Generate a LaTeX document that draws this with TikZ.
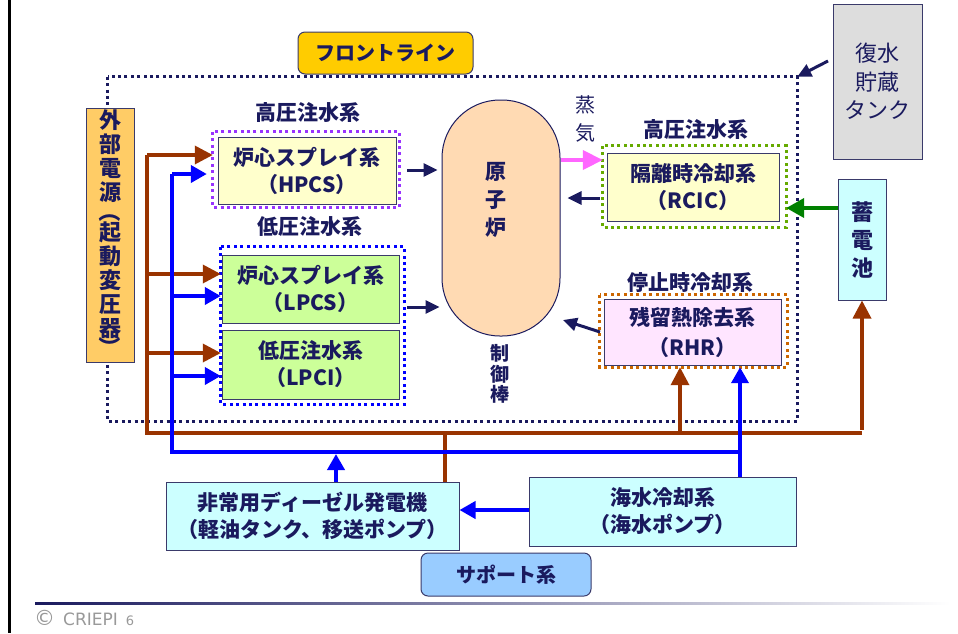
\documentclass[tikz,border=0pt]{standalone}
\usepackage{fontspec}
\setmainfont{Noto Sans CJK JP}
\newfontfamily\footfont{DejaVu Sans}
\usetikzlibrary{arrows.meta,calc}
\definecolor{navy}{HTML}{1A1A5E}
\definecolor{bordc}{HTML}{3A3A6A}
\definecolor{brn}{HTML}{993300}
\definecolor{blu}{HTML}{0000FF}
\definecolor{pnk}{HTML}{FF66FF}
\definecolor{grn}{HTML}{008000}
\definecolor{cfront}{HTML}{FFCC00}
\definecolor{csupport}{HTML}{99CCFF}
\definecolor{cext}{HTML}{FFCC66}
\definecolor{cpeach}{HTML}{FFDAB3}
\definecolor{clp}{HTML}{CCFF99}
\definecolor{cyel}{HTML}{FFFFCC}
\definecolor{crhr}{HTML}{FFE5FF}
\definecolor{ccyan}{HTML}{CCFFFF}
\definecolor{ctank}{HTML}{DDDDDD}
\definecolor{dpurple}{HTML}{9933FF}
\definecolor{dgreen}{HTML}{66AA00}
\definecolor{dorange}{HTML}{CC6600}
\definecolor{footgray}{HTML}{999999}
\tikzset{
  tbox/.style={draw=bordc, line width=1pt, inner sep=0pt, align=center, text=navy,
    font=\bfseries\fontsize{21}{27}\selectfont},
  plainbox/.style={inner sep=0pt},
  dotline/.style={line width=3pt, line cap=butt, dash pattern=on 3pt off 3.4pt},
  lbl/.style={text=navy, inner sep=0pt, align=center, font=\bfseries\fontsize{21}{26}\selectfont},
  brownln/.style={draw=brn, line width=3.5pt},
  brownarr/.style={brownln, -{Triangle[length=18pt,width=18pt]}},
  blueln/.style={draw=blu, line width=3.8pt},
  bluearr/.style={blueln, -{Triangle[length=16pt,width=17pt]}},
  navyarr/.style={draw=navy, line width=3pt, -{Triangle[length=14pt,width=13pt]}},
}
\begin{document}
\begin{tikzpicture}[x=1pt,y=-1pt]
\useasboundingbox (0,0) rectangle (958,633);
% left page border
\draw[black, line width=2.5pt] (9.5,0) -- (9.5,633);
% front line frame
\node[plainbox, minimum width=689pt, minimum height=344pt] (frame) at (452.5,249) {};
\draw[navy, dotline] (frame.north west) rectangle (frame.south east);
\node[tbox, fill=cfront, rounded corners=7pt, minimum width=175pt, minimum height=42pt,
  font=\bfseries\fontsize{20}{24}\selectfont] (front) at (385.5,53) {フロントライン};
% external power
\node[tbox, fill=cext, minimum width=48pt, minimum height=254pt] (ext) at (110,235) {};
\node[lbl, font=\bfseries\fontsize{22}{24}\selectfont] (exttext) at (110,234)
  {外\\部\\電\\源\\[-4pt]\rotatebox[origin=c]{-90}{（}\\[-4pt]起\\動\\変\\圧\\器\\[-4pt]\rotatebox[origin=c]{-90}{）}};
% HPCS
\node[lbl] (hpcslbl) at (308,113) {高圧注水系};
\node[plainbox, minimum width=186pt, minimum height=75pt] (hpcsO) at (306,169.5) {};
\draw[dpurple, dotline] (hpcsO.north west) rectangle (hpcsO.south east);
\node[tbox, fill=cyel, minimum width=178pt, minimum height=67pt] (hpcs) at (307,170.5) {炉心スプレイ系\\（HPCS）};
% LP group
\node[lbl] (lplbl) at (310,227) {低圧注水系};
\node[plainbox, minimum width=183pt, minimum height=157pt] (lpO) at (312.5,325.5) {};
\draw[blu, dotline] (lpO.north west) rectangle (lpO.south east);
\node[tbox, fill=clp, minimum width=177pt, minimum height=68pt] (lpcs) at (310.5,289) {炉心スプレイ系\\（LPCS）};
\node[tbox, fill=clp, minimum width=177pt, minimum height=69pt] (lpci) at (310.5,364.5) {低圧注水系\\（LPCI）};
% reactor
\node[draw=navy, fill=cpeach, line width=1pt, rounded corners=58pt, minimum width=118pt,
  minimum height=236pt, inner sep=0pt] (reactor) at (501,218) {};
\node[lbl, font=\bfseries\fontsize{21}{28}\selectfont] (rtext) at (496,200) {原\\子\\炉};
\node[lbl, font=\bfseries\fontsize{19}{20.5}\selectfont] (rod) at (500,374) {制\\御\\棒};
\node[lbl, font=\fontsize{20}{28}\selectfont] (steam) at (585,119) {蒸\\気};
% RCIC
\node[lbl] (rciclbl) at (696,130) {高圧注水系};
\node[plainbox, minimum width=183pt, minimum height=81pt] (rcicO) at (694.5,186.5) {};
\draw[dgreen, dotline] (rcicO.north west) rectangle (rcicO.south east);
\node[tbox, fill=cyel, minimum width=172pt, minimum height=68pt] (rcic) at (693,187) {隔離時冷却系\\（RCIC）};
% RHR
\node[lbl] (rhrlbl) at (690,283) {停止時冷却系};
\node[plainbox, minimum width=187pt, minimum height=72pt] (rhrO) at (693.5,331) {};
\draw[dorange, dotline] (rhrO.north west) rectangle (rhrO.south east);
\node[tbox, fill=crhr, minimum width=177pt, minimum height=66pt, font=\bfseries\fontsize{21}{30}\selectfont] (rhr) at (692.5,332) {残留熱除去系\\（RHR）};
% tank and battery
\node[tbox, fill=ctank, minimum width=89pt, minimum height=155pt,
  font=\fontsize{22}{28.5}\selectfont] (tank) at (877.5,81.5) {復水\\貯蔵\\タンク};
\node[tbox, fill=ccyan, minimum width=48pt, minimum height=121pt,
  font=\bfseries\fontsize{22}{28}\selectfont] (battery) at (862,239.5) {蓄\\電\\池};
% support systems
\node[tbox, fill=ccyan, minimum width=293pt, minimum height=68pt] (diesel) at (312.5,516) {非常用ディーゼル発電機\\（軽油タンク、移送ポンプ）};
\node[tbox, fill=ccyan, minimum width=267pt, minimum height=69pt] (sea) at (662.5,511.5) {海水冷却系\\（海水ポンプ）};
\node[tbox, fill=csupport, rounded corners=7pt, minimum width=170pt, minimum height=43pt,
  font=\bfseries\fontsize{20}{24}\selectfont] (support) at (506,574.5) {サポート系};
% coordinates
\coordinate (bHP) at (147,155);
\coordinate (bLS) at (147,274);
\coordinate (bLI) at (147,353);
\coordinate (bBL) at (147,433);
\coordinate (bRHR) at (680,433);
\coordinate (bDG) at (445,433);
\coordinate (bBat) at (862,433);
\coordinate (uHP) at (172,174);
\coordinate (uLS) at (172,296);
\coordinate (uLI) at (172,376);
\coordinate (uBL) at (172,452);
\coordinate (uBR) at (740,452);
\coordinate (uDG) at (336,454);
\coordinate (ySea) at (0,510);
\coordinate (yHP) at (0,170);
\coordinate (yLP) at (0,307);
\coordinate (ySteam) at (0,160);
\coordinate (yBack) at (0,198);
\coordinate (yBat) at (0,208);
\coordinate (rhrA) at (600,332);
\coordinate (rhrB) at (563,320);
\coordinate (tankA) at (828,61);
% brown power lines
\draw[brownln] (bHP) -- (bBL) -- (bBat);
\draw[brownarr] (bHP) -- (bHP -| hpcsO.west);
\draw[brownarr] (bLS) -- (bLS -| lpO.west);
\draw[brownarr] (bLI) -- (bLI -| lpO.west);
\draw[brownarr] (bRHR) -- (bRHR |- rhrO.south);
\draw[brownarr] ([yshift=3pt]bBat) -- (battery.south);
\draw[brownln] (bDG) -- (bDG |- diesel.north);
% blue cooling lines
\draw[blueln] (uHP) -- (uBL) -- (uBR);
\draw[bluearr] (uHP) -- ([xshift=-6pt]uHP -| hpcsO.west);
\draw[bluearr] (uLS) -- (uLS -| lpO.west);
\draw[bluearr] (uLI) -- (uLI -| lpO.west);
\draw[bluearr] (uBR |- sea.north) -- (uBR |- rhrO.south);
\draw[bluearr] (uDG |- diesel.north) -- (uDG);
\draw[bluearr] (sea.west |- ySea) -- (diesel.east |- ySea);
% navy arrows to reactor
\draw[navyarr] ([xshift=8pt]hpcsO.east |- yHP) -- ([xshift=-4pt]reactor.west |- yHP);
\draw[navyarr] ([xshift=3pt]lpO.east |- yLP) -- ([xshift=-2pt]reactor.west |- yLP);
\draw[navyarr] ([xshift=-3pt]rcicO.west |- yBack) -- ([xshift=7pt]reactor.east |- yBack);
\draw[navyarr] (rhrA) -- (rhrB);
\draw[navyarr] (tankA) -- (frame.north east);
% steam and battery
\draw[draw=pnk, line width=4pt, -{Triangle[length=20pt,width=19pt]}] (reactor.east |- ySteam) -- (rcicO.west |- ySteam);
\draw[draw=grn, line width=4pt, -{Triangle[length=18pt,width=19pt]}] (battery.west |- yBat) -- (rcicO.east |- yBat);
% footer
\shade[left color=navy, right color=white] (35,602) rectangle (950,604.5);
\node[anchor=west, inner sep=0pt, text=footgray, font=\footfont\fontsize{17}{20}\selectfont] (foot) at (34,618)
  {{\fontsize{21}{22}\selectfont ©}\hspace{8pt}CRIEPI\hspace{8pt}{\fontsize{13}{14}\selectfont 6}};
\end{tikzpicture}
\end{document}
